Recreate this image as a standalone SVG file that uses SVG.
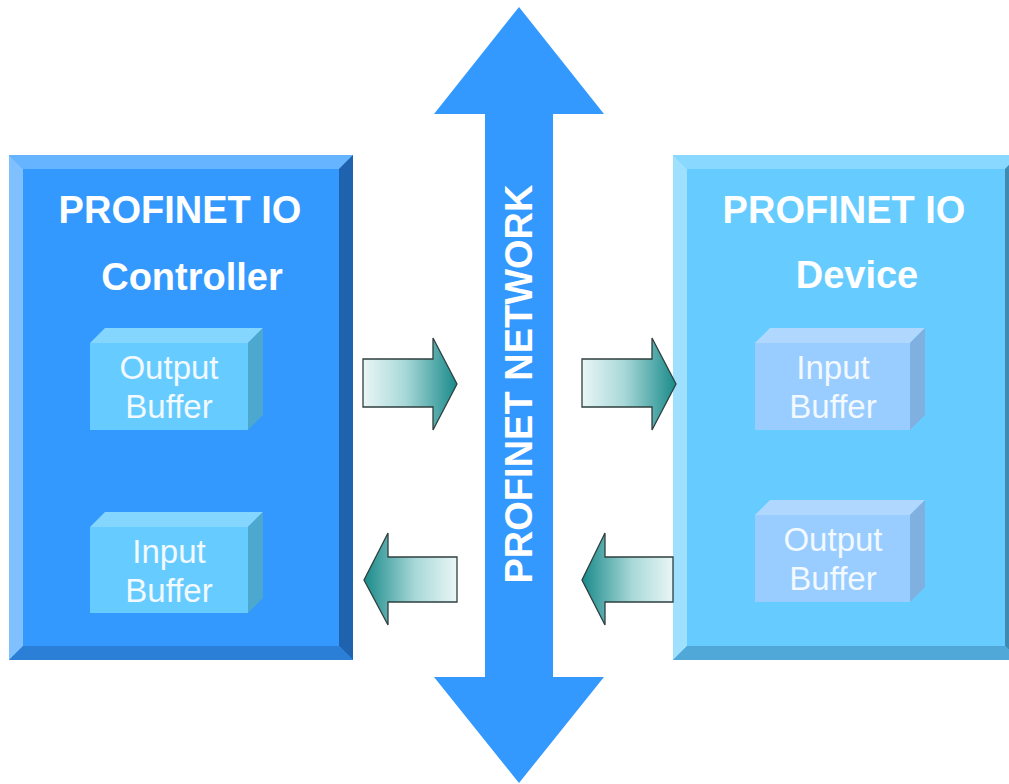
<svg xmlns="http://www.w3.org/2000/svg" width="1009" height="784" viewBox="0 0 1009 784">
<defs>
<linearGradient id="gR" x1="0" y1="0" x2="1" y2="0"><stop offset="0" stop-color="#EAF6F6"/><stop offset="0.45" stop-color="#A8D8D8"/><stop offset="1" stop-color="#1A8A8A"/></linearGradient>
<linearGradient id="gL" x1="1" y1="0" x2="0" y2="0"><stop offset="0" stop-color="#EAF6F6"/><stop offset="0.45" stop-color="#A8D8D8"/><stop offset="1" stop-color="#1A8A8A"/></linearGradient>
<style>
.title{font-family:"Liberation Sans",Arial,sans-serif;font-weight:bold;font-size:38px;fill:#FFFFFF;text-anchor:middle}
.buf{font-family:"Liberation Sans",Arial,sans-serif;font-size:33px;fill:#F2F9FF;text-anchor:middle}
.flow{stroke:#2F3F3F;stroke-width:1.3;stroke-linejoin:miter}
</style>
</defs>
<rect width="1009" height="784" fill="#FFFFFF"/>

<g id="controller">
<rect x="9" y="155" width="344" height="505" fill="#3399FF"/>
<polygon points="9,155 353,155 339,169 23,169" fill="#66B3FF"/>
<polygon points="9,155 23,169 23,646 9,660" fill="#80C0FF"/>
<polygon points="353,155 353,660 339,646 339,169" fill="#1F62AD"/>
<polygon points="9,660 23,646 339,646 353,660" fill="#2C7FD6"/>
<text class="title" x="180" y="223">PROFINET IO</text>
<text class="title" x="192" y="290">Controller</text>
</g>

<g id="controller-output-buffer">
<polygon points="90,343 105,328 263,328 248,343" fill="#85D6FF"/>
<polygon points="248,343 263,328 263,415 248,430" fill="#4DA8D0"/>
<rect x="90" y="343" width="158" height="87" fill="#66CCFF"/>
<text class="buf" x="169" y="379">Output</text>
<text class="buf" x="169" y="418">Buffer</text>
</g>

<g id="controller-input-buffer">
<polygon points="90,527 105,512 263,512 248,527" fill="#85D6FF"/>
<polygon points="248,527 263,512 263,598 248,613" fill="#4DA8D0"/>
<rect x="90" y="527" width="158" height="86" fill="#66CCFF"/>
<text class="buf" x="169" y="563">Input</text>
<text class="buf" x="169" y="602">Buffer</text>
</g>

<g id="device">
<rect x="673" y="155" width="346" height="505" fill="#66CCFF"/>
<polygon points="673,155 1019,155 1005,169 687,169" fill="#88D8FF"/>
<polygon points="673,155 687,169 687,646 673,660" fill="#A0E0FF"/>
<polygon points="1019,155 1019,660 1005,646 1005,169" fill="#3D8AB5"/>
<polygon points="673,660 687,646 1005,646 1019,660" fill="#4FA8D8"/>
<text class="title" x="844" y="223">PROFINET IO</text>
<text class="title" x="857" y="288">Device</text>
</g>

<g id="device-input-buffer">
<polygon points="755,343 770,328 925,328 910,343" fill="#B0D8FF"/>
<polygon points="910,343 925,328 925,415 910,430" fill="#80B0E0"/>
<rect x="755" y="343" width="155" height="87" fill="#99CCFF"/>
<text class="buf" x="833" y="379">Input</text>
<text class="buf" x="833" y="418">Buffer</text>
</g>

<g id="device-output-buffer">
<polygon points="755,515 770,500 925,500 910,515" fill="#B0D8FF"/>
<polygon points="910,515 925,500 925,587 910,602" fill="#80B0E0"/>
<rect x="755" y="515" width="155" height="87" fill="#99CCFF"/>
<text class="buf" x="833" y="551">Output</text>
<text class="buf" x="833" y="590">Buffer</text>
</g>

<g id="network">
<polygon points="519,7 604,114 553,114 553,677 604,677 519,783 434,677 485,677 485,114 434,114" fill="#3399FF"/>
<text class="title" transform="translate(532,384) rotate(-90)" x="0" y="0">PROFINET NETWORK</text>
</g>

<g id="connectors">
<polygon class="flow" fill="url(#gR)" points="363,359 433,359 433,338 457,384 433,430 433,407 363,407"/>
<polygon class="flow" fill="url(#gR)" points="582,359 652,359 652,338 676,384 652,430 652,407 582,407"/>
<polygon class="flow" fill="url(#gL)" points="457,557 388,557 388,533 364,580 388,625 388,602 457,602"/>
<polygon class="flow" fill="url(#gL)" points="673,557 605,557 605,533 582,580 605,625 605,602 673,602"/>
</g>
</svg>
